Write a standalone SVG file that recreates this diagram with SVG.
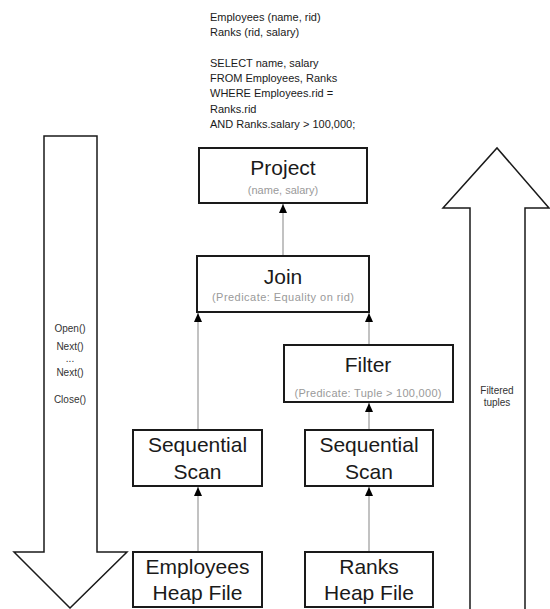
<svg xmlns="http://www.w3.org/2000/svg" width="550" height="609" viewBox="0 0 550 609">
<style>
.box{fill:#fff;stroke:#1a1a1a;stroke-width:2}
.big{fill:#fff;stroke:#1a1a1a;stroke-width:1.5;stroke-linejoin:miter}
.title{font-family:"Liberation Sans",Arial,sans-serif;font-size:21px;fill:#1a1a1a;text-anchor:middle}
.sub{font-family:"Liberation Sans",Arial,sans-serif;font-size:11px;fill:#9a9a9a;text-anchor:middle}
.note{font-family:"Liberation Sans",Arial,sans-serif;font-size:11px;fill:#1a1a1a}
.small{font-family:"Liberation Sans",Arial,sans-serif;font-size:10px;fill:#333;text-anchor:middle}
.conn{stroke:#999;stroke-width:1.2;fill:none;marker-end:url(#ah)}
</style>
<defs>
<marker id="ah" markerUnits="userSpaceOnUse" markerWidth="10" markerHeight="10" viewBox="0 0 10 10" refX="5" refY="0" orient="0">
<path d="M5,0 L9,9 L1,9 Z" fill="#000"/>
</marker>
</defs>
<rect width="550" height="609" fill="#fff"/>
<g id="query">
<text class="note" x="210" y="21">Employees (name, rid)</text>
<text class="note" x="210" y="36">Ranks (rid, salary)</text>
<text class="note" x="210" y="67">SELECT name, salary</text>
<text class="note" x="210" y="82">FROM Employees, Ranks</text>
<text class="note" x="210" y="97">WHERE Employees.rid =</text>
<text class="note" x="210" y="113">Ranks.rid</text>
<text class="note" x="210" y="128">AND Ranks.salary &gt; 100,000;</text>
</g>
<g id="down-arrow">
<polygon class="big" points="44,136 97,136 97,552 127,552 70,608 14,552 44,552"/>
<text class="small" x="70" y="332">Open()</text>
<text class="small" x="70" y="350">Next()</text>
<text class="small" x="70" y="362">...</text>
<text class="small" x="70" y="376">Next()</text>
<text class="small" x="70" y="403">Close()</text>
</g>
<g id="up-arrow">
<polygon class="big" points="470,614 470,208 443,208 497,148 549,208 525,208 525,614"/>
<text class="small" x="497" y="394">Filtered</text>
<text class="small" x="497" y="406">tuples</text>
</g>
<g id="connectors">
<line class="conn" x1="283" y1="256" x2="283" y2="204"/>
<line class="conn" x1="198" y1="430" x2="198" y2="313"/>
<line class="conn" x1="369" y1="345" x2="369" y2="313"/>
<line class="conn" x1="369" y1="430" x2="369" y2="403"/>
<line class="conn" x1="198" y1="552" x2="198" y2="487"/>
<line class="conn" x1="369" y1="552" x2="369" y2="487"/>
</g>
<g id="project">
<rect class="box" x="199" y="148" width="168" height="55"/>
<text class="title" x="283" y="175">Project</text>
<text class="sub" x="283" y="194">(name, salary)</text>
</g>
<g id="join">
<rect class="box" x="197" y="256" width="172" height="56"/>
<text class="title" x="283" y="284">Join</text>
<text class="sub" x="283" y="301" textLength="142" lengthAdjust="spacing">(Predicate: Equality on rid)</text>
</g>
<g id="filter">
<rect class="box" x="284" y="345" width="169" height="57"/>
<text class="title" x="368" y="372">Filter</text>
<text class="sub" x="368" y="397" textLength="147" lengthAdjust="spacing">(Predicate: Tuple &gt; 100,000)</text>
</g>
<g id="seqscan-left">
<rect class="box" x="133" y="430" width="129" height="56"/>
<text class="title" x="197.5" y="452">Sequential</text>
<text class="title" x="197.5" y="479">Scan</text>
</g>
<g id="seqscan-right">
<rect class="box" x="305" y="430" width="128" height="56"/>
<text class="title" x="369" y="452">Sequential</text>
<text class="title" x="369" y="479">Scan</text>
</g>
<g id="employees-heap">
<rect class="box" x="133" y="552" width="129" height="55"/>
<text class="title" x="197.5" y="574">Employees</text>
<text class="title" x="197.5" y="600">Heap File</text>
</g>
<g id="ranks-heap">
<rect class="box" x="305" y="552" width="128" height="55"/>
<text class="title" x="369" y="574">Ranks</text>
<text class="title" x="369" y="600">Heap File</text>
</g>
</svg>
